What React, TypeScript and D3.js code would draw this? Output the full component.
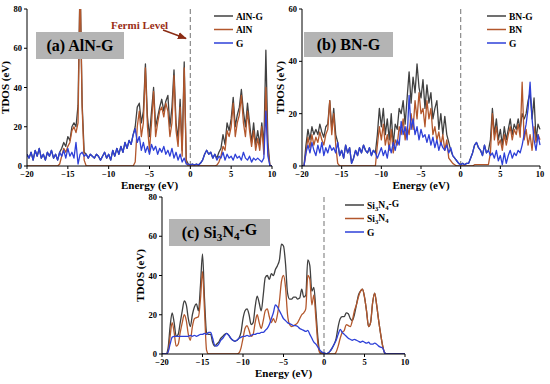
import React from 'react';
import * as d3 from 'd3';

// energy grid: values below are sampled every 0.25 eV from -20 to 10 eV
const E_START = -20;
const E_STEP = 0.25;
const ENERGY_TICKS = [-20, -15, -10, -5, 0, 5, 10];

// (a) AlN-G  (each row = 2 eV)
const alnG = [
  6, 4, 7, 3, 8, 5, 9, 4, // -20
  6, 3, 7, 5, 8, 4, 6, 3, // -18
  7, 9, 12, 10, 15, 13, 20, 22, // -16
  20, 31, 95, 32, 7, 6, 4, 6, // -14
  5, 4, 6, 5, 3, 5, 7, 4, // -12
  6, 3, 8, 5, 9, 6, 10, 7, // -10
  12, 9, 13, 11, 16, 20, 30, 32, // -8
  22, 28, 52, 25, 15, 28, 40, 20, // -6
  25, 30, 34, 28, 33, 36, 20, 30, // -4
  49, 22, 14, 34, 8, 53, 3, 1, // -2
  0.5, 1, 0.5, 1, 0.5, 1.5, 3, 6, // 0
  8, 6, 7, 4, 6, 4, 7, 9, // 2
  16, 11, 22, 18, 24, 35, 20, 26, // 4
  30, 39, 28, 20, 32, 22, 12, 22, // 6
  11, 18, 11, 22, 10, 59, 12, 0, // 8
  0,
];
const aln = [
  0, 0, 0, 0, 0, 0, 0, 0,
  0, 0, 0, 0, 0, 0, 0, 0,
  1, 5, 9, 7, 10, 12, 18, 20,
  17, 22, 95, 30, 3, 0, 0, 0,
  0, 0, 0, 0, 0, 0, 0, 0,
  0, 0, 0, 0, 0, 0, 0, 0,
  0, 0, 0, 0, 0, 2, 20, 28,
  15, 22, 50, 20, 8, 22, 38, 15,
  22, 28, 30, 25, 32, 28, 15, 22,
  46, 18, 10, 30, 5, 50, 2, 0,
  0, 0, 0, 0, 0, 0, 0, 0,
  0, 0, 0, 0, 0, 0.5, 2, 5,
  10, 8, 18, 15, 20, 32, 15, 22,
  26, 36, 22, 15, 28, 18, 10, 18,
  8, 14, 8, 20, 6, 40, 8, 0,
  0,
];
const gA = [
  6, 4, 7, 3, 8, 5, 9, 4,
  6, 3, 7, 5, 8, 4, 6, 3,
  7, 5, 8, 4, 9, 5, 7, 4,
  12, 1, 6, 7, 5, 6, 4, 6,
  5, 4, 6, 5, 3, 5, 7, 4,
  6, 3, 8, 5, 9, 6, 10, 7,
  12, 9, 13, 11, 16, 19, 12, 15,
  8, 12, 7, 10, 6, 11, 8, 10,
  6, 9, 7, 10, 6, 8, 5, 9,
  4, 7, 3, 6, 2, 4, 1, 1,
  0.5, 1, 0.5, 1, 0.5, 1.5, 3, 6,
  8, 6, 7, 4, 6, 3, 5, 4,
  7, 3, 6, 4, 5, 3, 6, 4,
  5, 3, 7, 4, 3, 5, 2, 4,
  3, 4, 3, 2, 4, 28, 5, 0,
  0,
];

// (b) BN-G
const bnG = [
  0, 0, 8, 14, 10, 15, 12, 14,
  12, 16, 13, 11, 15, 16, 25, 14,
  22, 12, 9, 4, 6, 3, 8, 5,
  7, 1, 3, 6, 4, 7, 5, 8,
  6, 5, 7, 4, 6, 5, 12, 22,
  15, 22, 12, 18, 10, 20, 8, 16,
  14, 22, 20, 25, 16, 26, 36, 24,
  34, 28, 39, 30, 26, 33, 22, 31,
  24, 28, 18, 22, 25, 14, 20, 12,
  19, 12, 9, 6, 4, 3, 2, 1,
  0.5, 1, 0.5, 1, 1, 3, 5, 8,
  9, 7, 6, 4, 8, 5, 6, 10,
  22, 12, 18, 10, 14, 8, 15, 10,
  14, 18, 12, 16, 14, 18, 14, 20,
  18, 20, 25, 28, 18, 26, 10, 16,
  14,
];
const bn = [
  0, 0, 5, 11, 7, 12, 8, 11,
  9, 13, 10, 8, 12, 14, 25, 12,
  20, 8, 1, 0, 0, 0, 0, 0,
  0, 0, 0, 0, 0, 0, 0, 0,
  0, 0, 0, 0, 0, 0, 8, 15,
  10, 16, 8, 12, 6, 14, 5, 10,
  8, 15, 12, 18, 10, 15, 12, 20,
  14, 25, 18, 28, 20, 22, 15, 25,
  18, 22, 12, 15, 10, 13, 8, 12,
  6, 10, 3, 2, 1, 0.5, 0, 0,
  0, 0, 0, 0, 0, 0, 0, 0.5,
  0.5, 0.5, 0.5, 0.5, 0.5, 0.5, 0.5, 5,
  20, 10, 15, 8, 10, 6, 12, 8,
  12, 15, 10, 14, 12, 16, 11, 32,
  10, 14, 8, 12, 6, 15, 9, 12,
  10,
];
const gB = [
  0, 0, 5, 8, 5, 9, 6, 4,
  8, 5, 9, 4, 7, 5, 8, 6,
  7, 5, 9, 4, 6, 3, 8, 5,
  7, 1, 3, 6, 4, 7, 5, 8,
  6, 5, 7, 4, 6, 5, 3, 5,
  7, 4, 6, 3, 8, 5, 9, 6,
  10, 8, 17, 12, 15, 10, 27, 14,
  18, 12, 15, 10, 14, 11, 12, 9,
  12, 8, 11, 7, 10, 6, 9, 7,
  6, 8, 5, 7, 4, 3, 2, 1,
  0.5, 1, 0.5, 1, 1, 3, 5, 8,
  9, 7, 6, 4, 8, 5, 6, 4,
  5, 3, 6, 2, 4, 0.5, 5, 1,
  4, 6, 3, 5, 4, 6, 5, 8,
  12, 16, 22, 32, 18, 10, 6, 12,
  8,
];

// (c) Si3N4-G
const siG = [
  0, 0, 0, 3, 14, 21, 16, 9,
  10, 16, 22, 27, 25, 18, 14, 20,
  24, 25.5, 22, 35, 51, 28, 11, 10,
  10, 6, 4, 5, 6, 8, 9, 10,
  10.5, 9.5, 8, 7, 6.5, 7, 8, 11,
  18, 22, 23, 20, 15, 16, 24, 29.5,
  26, 22, 30, 39, 40, 38, 41, 40,
  43, 45, 48, 56, 55, 46, 31, 28,
  28, 29, 29, 28, 28.5, 33, 29, 30,
  48, 45, 32, 34, 22, 8, 1, 0.5,
  0.5, 0.2, 0.5, 1.5, 3, 5, 8, 14,
  18, 19, 19, 21, 20.5, 18, 17, 20,
  25, 30, 32, 33, 29, 22, 14, 16,
  26, 31, 25, 17, 10, 4, 0.5, 0,
  0, 0, 0, 0, 0, 0, 0, 0,
  0,
];
const si = [
  0, 0, 0, 1, 9, 16, 11, 4,
  5, 11, 16, 20, 17, 10, 7, 14,
  18, 18.5, 19, 28, 42, 22, 2, 0,
  0, 0, 0, 0, 0, 0, 0, 0,
  0, 0, 0, 0, 0, 0, 0.5, 3,
  8, 13, 14.5, 12, 9, 10, 16, 20,
  16, 13, 17, 22, 23, 19, 16, 18,
  16, 20, 27, 37, 40, 34, 20, 15,
  14, 14.5, 15, 16, 18, 20, 21, 23,
  40, 38, 25, 30, 18, 5, 0.5, 0,
  0, 0, 0, 0, 0, 0, 1, 4,
  8, 11, 12, 15, 14.5, 14, 17, 22,
  25, 29, 32, 33, 29, 22, 14, 16,
  26, 31, 25, 17, 10, 4, 0.5, 0,
  0, 0, 0, 0, 0, 0, 0, 0,
  0,
];
const gC = [
  0, 0, 0, 1, 5, 8.5, 9, 9,
  9, 9, 9, 9, 9, 9, 9.5, 9,
  9.5, 9, 9.5, 10, 10, 10.5, 10, 11,
  11, 8, 4.5, 4, 5, 7, 8, 9.5,
  10.5, 9.5, 8, 7, 6.5, 7, 8, 8.5,
  9, 9, 9.5, 9, 9.5, 10, 10, 10.5,
  10.5, 11, 11, 12, 13, 15, 18, 21,
  25, 24, 22, 20, 18, 17, 16, 15.5,
  15, 14.5, 14.5, 14, 13, 12.5, 12, 11.5,
  12, 10, 8, 6, 5, 3.5, 2, 1,
  0.5, 0.2, 0.5, 1.5, 3, 5, 7, 10,
  12.5, 11, 10, 9, 8, 7.5, 7, 7.5,
  7, 6.5, 6, 6.5, 6, 5.5, 6, 5,
  5, 5.5, 5, 4, 3.5, 3, 0.5, 0,
  0, 0, 0, 0, 0, 0, 0, 0,
  0,
];

const FONT = '"Liberation Serif", "Times New Roman", serif';
const C_TOTAL = '#404040';
const C_SUB = '#b3572c';
const C_G = '#2e40d8';

const SiN = ({ prefix, suffix }: { prefix?: string; suffix?: string }) => (
  <>
    {prefix || ''}Si<tspan fontSize="0.7em" dy="0.3em">3</tspan>
    <tspan dy="-0.3em">N</tspan>
    <tspan fontSize="0.7em" dy="0.3em">4</tspan>
    <tspan dy="-0.3em">{suffix || ''}</tspan>
  </>
);

type Layer = { label: React.ReactNode; values: number[]; color: string };

type PanelProps = {
  id: string;
  x0: number; x1: number; y0: number; y1: number;
  yMax: number; yTicks: number[];
  layers: Layer[];
  title: React.ReactNode;
  box: [number, number, number, number];
  legend: [number, number];
  smooth?: boolean;
  children?: React.ReactNode;
};

function Panel({ id, x0, x1, y0, y1, yMax, yTicks, layers, title, box, legend, smooth, children }: PanelProps) {
  const x = d3.scaleLinear().domain([-20, 10]).range([x0, x1]);
  const y = d3.scaleLinear().domain([0, yMax]).range([y1, y0]);
  const line = d3.line<number>()
    .x((_, i) => x(E_START + i * E_STEP))
    .y(d => y(d))
    .curve(smooth ? d3.curveMonotoneX : d3.curveLinear);

  return (
    <g fontFamily={FONT} fontWeight="bold">
      <defs>
        <clipPath id={id}>
          <rect x={x0} y={y0} width={x1 - x0 + 1} height={y1 - y0} />
        </clipPath>
      </defs>
      {/* fermi level */}
      <line x1={x(0)} x2={x(0)} y1={y0} y2={y1} stroke="#8a8a8a" strokeWidth={1.2} strokeDasharray="5,3" />
      <g clipPath={`url(#${id})`}>
        {layers.map((l, i) => (
          <path key={i} d={line(l.values) || ''} fill="none" stroke={l.color} strokeWidth={1.3} strokeLinejoin="round" />
        ))}
      </g>
      {/* axes */}
      <line x1={x0} x2={x0} y1={y0} y2={y1} stroke="#000" strokeWidth={1} />
      <line x1={x0} x2={x1} y1={y1} y2={y1} stroke="#000" strokeWidth={1} />
      {ENERGY_TICKS.map(t => (
        <g key={t}>
          <line x1={x(t)} x2={x(t)} y1={y1} y2={y1 + 3} stroke="#000" />
          <text x={x(t)} y={y1 + 11} fontSize={8.5} textAnchor="middle">{t < 0 ? '\u2212' + Math.abs(t) : t}</text>
        </g>
      ))}
      {yTicks.map(t => (
        <g key={t}>
          <line x1={x0 - 3} x2={x0} y1={y(t)} y2={y(t)} stroke="#000" />
          <text x={x0 - 5} y={y(t) + 3} fontSize={8.5} textAnchor="end">{t}</text>
        </g>
      ))}
      <text x={(x0 + x1) / 2} y={y1 + 23} fontSize={11} textAnchor="middle">Energy (eV)</text>
      <text transform={`translate(${x0 - 18},${(y0 + y1) / 2}) rotate(-90)`} fontSize={11} textAnchor="middle">TDOS (eV)</text>
      {/* title box */}
      <rect x={box[0]} y={box[1]} width={box[2]} height={box[3]} fill="#b4b4b4" />
      <text x={box[0] + box[2] / 2} y={box[1] + box[3] / 2 + 5.5} fontSize={16} textAnchor="middle">{title}</text>
      {/* legend */}
      {layers.map((l, i) => (
        <g key={i} transform={`translate(${legend[0]},${legend[1] + i * 13.5})`}>
          <line x1={0} x2={19} y1={0} y2={0} stroke={l.color} strokeWidth={1.5} />
          <text x={22} y={3.5} fontSize={9.5}>{l.label}</text>
        </g>
      ))}
      {children}
    </g>
  );
}

export default function App() {
  return (
    <svg width={550} height={384} style={{ position: 'absolute', left: 0, top: 0, background: '#fff' }}>
      <defs>
        <marker id="arr" viewBox="0 0 10 10" refX={9} refY={5} markerWidth={6} markerHeight={6} orient="auto">
          <path d="M0,1 L10,5 L0,9 z" fill="#8b2c14" />
        </marker>
      </defs>
      <Panel
        id="clipA" x0={27} x1={272} y0={9} y1={166} yMax={80} yTicks={[0, 20, 40, 60, 80]}
        layers={[
          { label: 'AlN-G', values: alnG, color: C_TOTAL },
          { label: 'AlN', values: aln, color: C_SUB },
          { label: 'G', values: gA, color: C_G },
        ]}
        title="(a) AlN-G" box={[36, 32, 88, 27]} legend={[214, 16]}
      >
        <text x={111} y={29} fontSize={11} fill="#9a2e16">Fermi Level</text>
        <line x1={163} y1={30} x2={186} y2={38.5} stroke="#8b2c14" strokeWidth={1.5} markerEnd="url(#arr)" />
      </Panel>
      <Panel
        id="clipB" x0={302} x1={540} y0={9} y1={166} yMax={60} yTicks={[0, 20, 40, 60]}
        layers={[
          { label: 'BN-G', values: bnG, color: C_TOTAL },
          { label: 'BN', values: bn, color: C_SUB },
          { label: 'G', values: gB, color: C_G },
        ]}
        title="(b) BN-G" box={[304, 32, 89, 25]} legend={[487, 16]}
      />
      <Panel
        id="clipC" x0={162} x1={405} y0={197} y1={354} yMax={80} yTicks={[0, 20, 40, 60, 80]}
        layers={[
          { label: <SiN suffix="-G" />, values: siG, color: C_TOTAL },
          { label: <SiN />, values: si, color: C_SUB },
          { label: 'G', values: gC, color: C_G },
        ]}
        title={<SiN prefix="(c) " suffix="-G" />} box={[169, 219, 101, 27]} legend={[345, 205]} smooth
      />
    </svg>
  );
}
